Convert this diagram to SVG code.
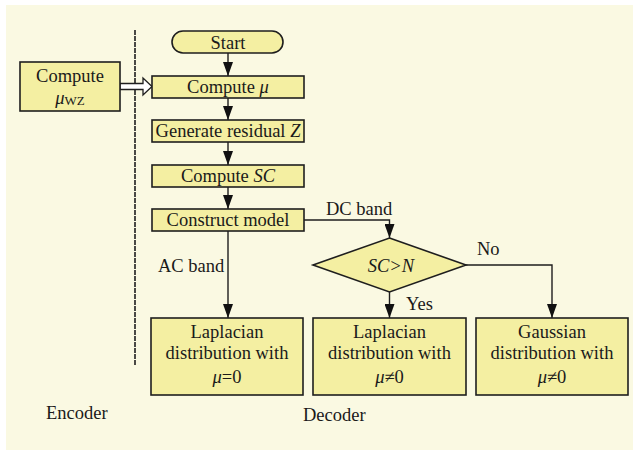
<svg xmlns="http://www.w3.org/2000/svg" width="633" height="450" viewBox="0 0 633 450">
<style>
.bx{fill:#F4EFA2;stroke:#1e1e1e;stroke-width:1.6}
.t{font-family:"Liberation Serif","Times New Roman",serif;font-size:18.5px;fill:#1a1a1a;text-anchor:middle}
.l{font-family:"Liberation Serif","Times New Roman",serif;font-size:18.5px;fill:#1a1a1a}
.c{fill:none;stroke:#1e1e1e;stroke-width:1.4}
</style>
<defs>
<marker id="av" viewBox="0 0 10 14" markerWidth="10" markerHeight="14" refX="5" refY="14" orient="0" markerUnits="userSpaceOnUse">
<path d="M0,0 L10,0 L5,14 Z" fill="#111"/>
</marker>
</defs>
<rect x="6" y="5" width="627" height="445" fill="#FAF9E2"/>
<line x1="135" y1="30" x2="135" y2="366" stroke="#1e1e1e" stroke-width="1.6" stroke-dasharray="5,1"/>
<g id="connectors">
<line class="c" x1="228" y1="53" x2="228" y2="76" marker-end="url(#av)"/>
<line class="c" x1="228" y1="98" x2="228" y2="120" marker-end="url(#av)"/>
<line class="c" x1="228" y1="142" x2="228" y2="165" marker-end="url(#av)"/>
<line class="c" x1="228" y1="187" x2="228" y2="209" marker-end="url(#av)"/>
<line class="c" x1="228" y1="231" x2="228" y2="318" marker-end="url(#av)"/>
<polyline class="c" points="304,220 389.5,220 389.5,238" marker-end="url(#av)"/>
<line class="c" x1="389.5" y1="292" x2="389.5" y2="318" marker-end="url(#av)"/>
<polyline class="c" points="466,265 552,265 552,318" marker-end="url(#av)"/>
<polygon points="120,83.5 143,83.5 143,78 152,86.5 143,95 143,89.5 120,89.5" fill="#ffffff" stroke="#1e1e1e" stroke-width="1.3"/>
<text class="l" x="326" y="215">DC band</text>
<text class="l" x="158" y="272">AC band</text>
<text class="l" x="477" y="255">No</text>
<text class="l" x="406" y="310">Yes</text>
</g>
<g id="start">
<rect class="bx" x="172" y="31" width="111" height="22" rx="11" ry="11"/>
<text class="t" x="228" y="49">Start</text>
</g>
<g id="compute-wz">
<rect class="bx" x="20" y="62" width="100" height="49"/>
<text class="t" x="70" y="82">Compute</text>
<text class="t" x="70" y="104"><tspan font-style="italic">μ</tspan><tspan font-size="13" dy="1">WZ</tspan></text>
</g>
<g id="compute-mu">
<rect class="bx" x="152" y="76" width="152" height="22"/>
<text class="t" x="228" y="93">Compute <tspan font-style="italic">μ</tspan></text>
</g>
<g id="residual">
<rect class="bx" x="152" y="120" width="152" height="22"/>
<text class="t" x="228" y="137">Generate residual <tspan font-style="italic">Z</tspan></text>
</g>
<g id="compute-sc">
<rect class="bx" x="152" y="165" width="152" height="22"/>
<text class="t" x="228" y="182">Compute <tspan font-style="italic">SC</tspan></text>
</g>
<g id="construct">
<rect class="bx" x="152" y="209" width="152" height="22"/>
<text class="t" x="228" y="226">Construct model</text>
</g>
<g id="decision">
<polygon class="bx" points="389.5,238 466,265 389.5,292 313,265"/>
<text class="t" x="391" y="272" font-style="italic">SC&gt;N</text>
</g>
<g id="lap0">
<rect class="bx" x="151" y="318" width="152" height="77"/>
<text class="t" x="227" y="338">Laplacian</text>
<text class="t" x="227" y="359">distribution with</text>
<text class="t" x="227" y="383"><tspan font-style="italic">μ</tspan>=0</text>
</g>
<g id="lapn0">
<rect class="bx" x="313" y="318" width="153" height="77"/>
<text class="t" x="389.5" y="338">Laplacian</text>
<text class="t" x="389.5" y="359">distribution with</text>
<text class="t" x="389.5" y="383"><tspan font-style="italic">μ</tspan>≠0</text>
</g>
<g id="gaussn0">
<rect class="bx" x="476" y="318" width="152" height="77"/>
<text class="t" x="552" y="338">Gaussian</text>
<text class="t" x="552" y="359">distribution with</text>
<text class="t" x="552" y="383"><tspan font-style="italic">μ</tspan>≠0</text>
</g>
<text class="l" x="46" y="419">Encoder</text>
<text class="l" x="303" y="421">Decoder</text>
</svg>
